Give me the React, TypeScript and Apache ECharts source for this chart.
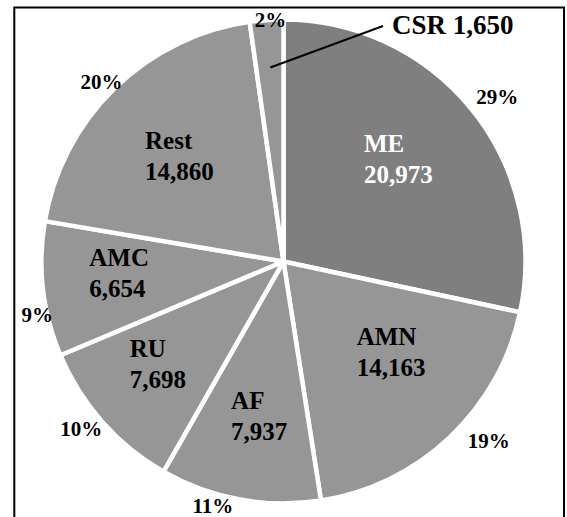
import React, { useEffect, useRef } from "react";
import * as echarts from "echarts";

const categories = ["ME", "AMN", "AF", "RU", "AMC", "Rest", "CSR"];
const values = [20973, 14163, 7937, 7698, 6654, 14860, 1650];
const percentLabels = ["29%", "19%", "11%", "10%", "9%", "20%", "2%"];

// styles (not data)
const sliceColors = ["#7f7f7f", "#969696", "#969696", "#969696", "#969696", "#969696", "#969696"];
const nameLabelColors = ["#ffffff", "#000000", "#000000", "#000000", "#000000", "#000000", "#000000"];
const nameLabelOffsets = [[24, -25], [28, 0], [10, 33], [-21, 20], [-31, -3], [-12, -17], [0, 0]];
const percentOffsets = [[13, -2], [28, -8], [-24, -9], [-9, -4], [10, 24], [-2, 5], [5, 16]];
const OUTSIDE_INDEX = 6;

const FONT = "'Liberation Serif', 'Times New Roman', serif";
const fmt = (v: number) => v.toLocaleString("en-US");

export default function App() {
  const ref = useRef<HTMLDivElement>(null);
  useEffect(() => {
    if (!ref.current) return;
    const chart = echarts.init(ref.current, undefined, { renderer: "svg" });
    const center = [283.5, 261.5];

    const mainData = categories.map((name, i) => {
      if (i === OUTSIDE_INDEX) {
        return {
          name,
          value: values[i],
          itemStyle: { color: sliceColors[i] },
          label: { show: true, position: "outside" },
          labelLine: { show: false },
        };
      }
      return {
        name,
        value: values[i],
        itemStyle: { color: sliceColors[i] },
        label: {
          offset: nameLabelOffsets[i],
          rich: {
            n: {
              width: 80,
              align: "left",
              fontSize: 25,
              lineHeight: 31,
              fontFamily: FONT,
              fontWeight: "bold",
              color: nameLabelColors[i],
            },
          },
        },
      };
    });

    const pctData = categories.map((name, i) => ({
      name,
      value: values[i],
      label: { offset: percentOffsets[i] },
    }));

    chart.setOption({
      animation: false,
      graphic: [
        {
          type: "rect",
          shape: { x: 14.3, y: 7.5, width: 549.7, height: 540 },
          style: { fill: "none", stroke: "#000", lineWidth: 2 },
          z: 0,
          silent: true,
        },
        {
          type: "line",
          shape: { x1: 270.3, y1: 67.5, x2: 383, y2: 26 },
          style: { stroke: "#000", lineWidth: 2 },
          z: 100,
          silent: true,
        },
      ],
      series: [
        {
          type: "pie",
          center,
          radius: 242,
          startAngle: 90,
          clockwise: true,
          avoidLabelOverlap: false,
          emphasis: { disabled: true },
          itemStyle: { borderColor: "#ffffff", borderWidth: 4.5 },
          label: {
            show: true,
            position: "inside",
            fontFamily: FONT,
            fontWeight: "bold",
            fontSize: 25,
            lineHeight: 31,
            color: "#000",
            formatter: (p: any) =>
              p.dataIndex === OUTSIDE_INDEX
                ? `{c|${p.name} ${fmt(p.value)}}`
                : `{n|${p.name}}\n{n|${fmt(p.value)}}`,
            rich: {
              c: { fontSize: 27, fontFamily: FONT, fontWeight: "bold", color: "#000" },
            },
          },
          labelLine: { show: false },
          labelLayout: (params: any) => {
            if (params.dataIndex === OUTSIDE_INDEX) {
              return { x: 392, y: 25, align: "left", verticalAlign: "middle" };
            }
            return {};
          },
          data: mainData,
        },
        {
          type: "pie",
          center,
          radius: [240, 270],
          startAngle: 90,
          clockwise: true,
          silent: true,
          avoidLabelOverlap: false,
          emphasis: { disabled: true },
          itemStyle: { color: "rgba(0,0,0,0)", borderWidth: 0 },
          label: {
            show: true,
            position: "inside",
            fontFamily: FONT,
            fontWeight: "bold",
            fontSize: 21,
            color: "#000",
            formatter: (p: any) => percentLabels[p.dataIndex],
          },
          labelLine: { show: false },
          data: pctData,
        },
      ],
    });
    return () => chart.dispose();
  }, []);
  return (
    <div
      ref={ref}
      style={{ position: "fixed", left: 0, top: 0, width: 567, height: 517, background: "#fff" }}
    />
  );
}
